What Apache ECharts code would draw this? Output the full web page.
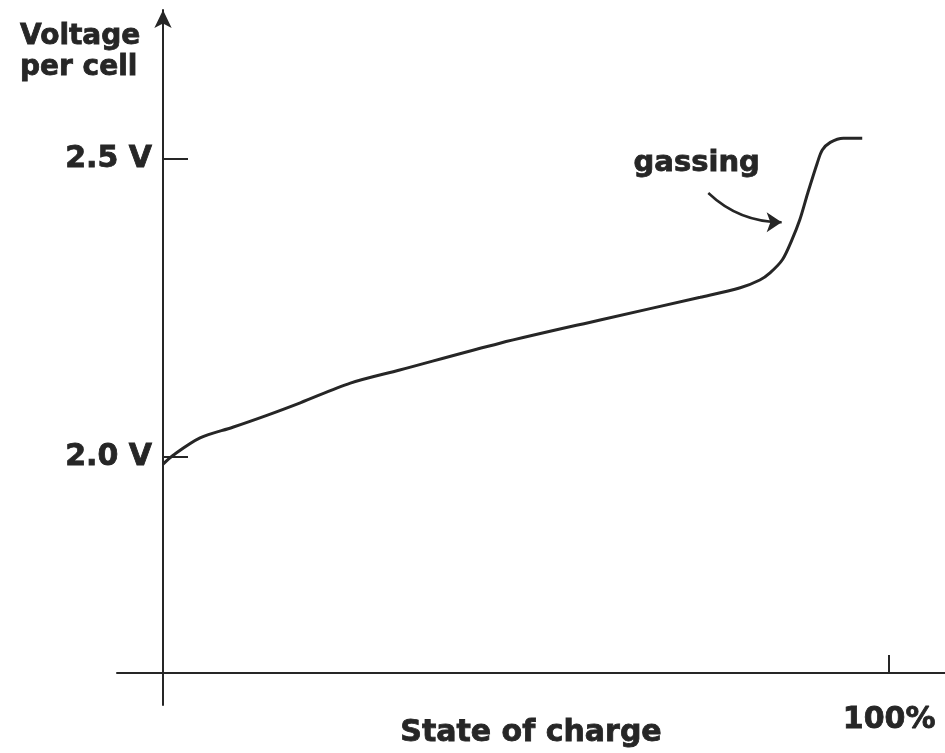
<!DOCTYPE html>
<html>
<head>
<meta charset="utf-8">
<style>
  html, body { margin: 0; padding: 0; background: #fff; }
  #chart { width: 945px; height: 753px; }
</style>
<script src="https://cdn.jsdelivr.net/npm/echarts@6/dist/echarts.min.js"></script>
</head>
<body>
<div id="chart"></div>
<script>
// State of charge (%) and the matching charging voltage per cell (V)
const socPct = [0, 1.4, 5.1, 9.6, 14.3, 18.9, 25.8, 32.6, 46.4, 60.2, 74.0, 79.5, 82.2, 83.6, 85.3, 86.6, 87.7, 88.8, 90.1, 90.8, 91.9, 93.7, 96.3];
const voltsPerCell = [1.988, 2.003, 2.032, 2.050, 2.070, 2.091, 2.124, 2.146, 2.191, 2.230, 2.268, 2.284, 2.297, 2.309, 2.331, 2.364, 2.398, 2.443, 2.493, 2.515, 2.528, 2.535, 2.535];

// Tick marks and their labels
const voltTicks = [2.0, 2.5];
const voltTickLabels = ['2.0 V', '2.5 V'];
const socTicks = [100];
const socTickLabels = ['100%'];

// "gassing" note and its pointer (from, to) in chart units
const gassingText = 'gassing';
const gassingTextAt = [73.5, 2.493];
const gassingArrow = [[75.1, 2.443], [85.2, 2.394]];

const ink = '#262626';
const font = 'DejaVu Sans';
// heavy lettering: bold face plus a thin outline in the same ink
const heavyText = { fontFamily: font, fontWeight: 'bold', color: ink, textBorderColor: ink, textBorderWidth: 0.8 };

const chart = echarts.init(document.getElementById('chart'), null, { renderer: 'canvas' });

const points = socPct.map((x, i) => [x, voltsPerCell[i]]);

chart.setOption({
  animation: false,
  backgroundColor: '#ffffff',
  title: {
    text: 'Voltage\nper cell',
    left: 20,
    top: 21,
    padding: 0,
    textStyle: Object.assign({}, heavyText, { fontSize: 28, lineHeight: 31 })
  },
  grid: { left: 117, right: 0, top: 10, bottom: 48, containLabel: false, outerBoundsMode: 'none' },
  xAxis: {
    type: 'value',
    min: -6.34,
    max: 107.7,
    offset: -32,
    splitLine: { show: false },
    axisLine: { show: true, onZero: false, lineStyle: { color: ink, width: 2 } },
    axisTick: { show: true, inside: true, length: 18, customValues: socTicks, lineStyle: { color: ink, width: 2 } },
    axisLabel: Object.assign({
      show: true,
      customValues: socTicks,
      margin: 32,
      formatter: v => socTickLabels[socTicks.indexOf(v)] || '',
      fontSize: 30
    }, heavyText),
    name: 'State of charge',
    nameLocation: 'middle',
    nameGap: 45,
    nameMoveOverlap: false,
    nameTextStyle: Object.assign({ fontSize: 30 }, heavyText)
  },
  yAxis: {
    type: 'value',
    min: 1.584,
    max: 2.75,
    offset: -46,
    splitLine: { show: false },
    axisLine: {
      show: true, onZero: false,
      symbol: ['none', 'arrow'], symbolSize: [13, 18], symbolOffset: [0, 0],
      lineStyle: { color: ink, width: 2 }
    },
    axisTick: { show: true, inside: true, length: 25, customValues: voltTicks, lineStyle: { color: ink, width: 2 } },
    axisLabel: Object.assign({
      show: true,
      customValues: voltTicks,
      margin: 11,
      formatter: v => voltTickLabels[voltTicks.indexOf(v)] || '',
      fontSize: 30
    }, heavyText)
  },
  series: [{
    type: 'line',
    data: points,
    smooth: 0.3,
    showSymbol: false,
    lineStyle: { color: ink, width: 3 },
    emphasis: { disabled: true },
    markPoint: {
      silent: true,
      symbol: 'circle',
      symbolSize: 0,
      data: [{ coord: gassingTextAt }],
      label: Object.assign({
        show: true, position: 'inside', formatter: gassingText, fontSize: 29
      }, heavyText)
    }
  }, {
    // curved pointer from the note to the steep part of the curve
    type: 'lines',
    coordinateSystem: 'cartesian2d',
    silent: true,
    symbol: ['none', 'arrow'],
    symbolSize: 15,
    lineStyle: { color: ink, width: 2.5, opacity: 1, curveness: -0.2 },
    data: [{ coords: gassingArrow }]
  }]
});
</script>
</body>
</html>
